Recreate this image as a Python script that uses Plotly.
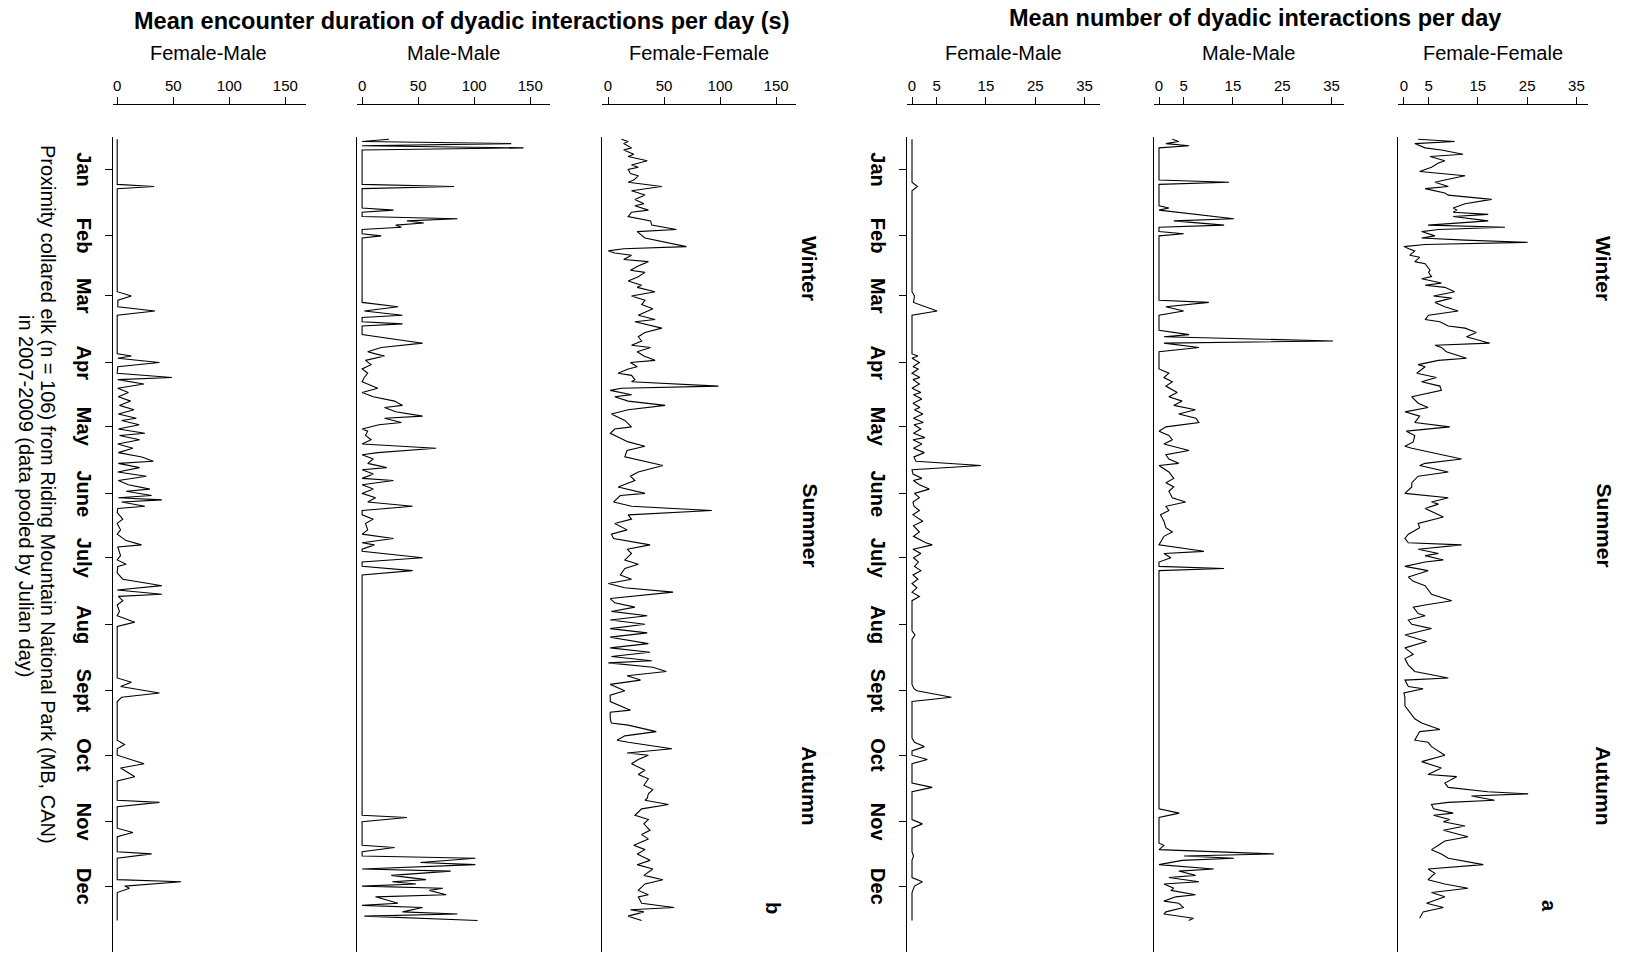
import plotly.graph_objects as go

W, H = 1627, 954

# ---------------- data: (julian day, value) vertices of each daily series ----------------
# Mean encounter duration of dyadic interactions per day (s)
fm_dur = [(1, 0), (22, 0), (23, 33), (24, 0), (72, 0), (74, 12.7), (76, 0.6), (79, 0.5), (81, 33.7), (83, 0),
          (101, 0), (102, 12.7), (103, 0.5), (105, 37.7), (107, 0.5), (110, 0), (112, 48.8), (113, 0.5),
          (115, 23.8), (117, 0.5), (119, 10), (121, 1), (123, 12), (125, 2), (127, 15), (129, 1), (131, 17),
          (132, 4), (134, 19.6), (136, 1), (138, 24.7), (139, 2), (141, 20), (143, 0.5), (145, 14), (147, 1),
          (149, 22), (151, 32.2), (152, 1), (154, 20), (156, 0.5), (158, 26), (160, 1), (162, 10), (164, 29.2),
          (165, 8), (167, 30.7), (168, 1), (169, 39.8), (170, 4), (172, 24.7), (173, 0.5), (175, 0), (178, 5),
          (180, 0), (183, 3), (185, 0), (188, 8), (190, 21.7), (191, 0.5), (195, 3), (197, 0), (199, 8),
          (200, 0.5), (203, 0), (206, 5), (208, 28), (209, 39.8), (211, 0), (213, 39.8), (214, 1), (216, 5),
          (218, 0), (221, 2), (223, 0), (226, 15.7), (228, 0), (252, 0), (254, 12.7), (256, 3), (259, 37.7),
          (261, 4), (263, 0), (281, 0), (283, 6.6), (285, 0), (288, 0), (292, 24), (294, 3), (297, 12.7),
          (298, 15.7), (300, 0), (309, 0), (310, 37.7), (312, 0), (322, 0), (324, 14), (326, 0), (333, 0),
          (334, 30.7), (336, 0), (346, 0), (347, 57), (349, 6.6), (350, 11), (352, 0), (365, 0)]

mm_dur = [(1, 24), (2, 0), (3, 133), (4, 0), (5, 144), (6, 0), (22, 0), (23, 82), (24, 0), (33, 0), (34, 28),
          (35, 0), (37, 0), (38, 85), (39, 40), (40, 55), (41, 30), (42, 35), (43, 0), (45, 0), (46, 17),
          (47, 0), (77, 0), (79, 32), (81, 2), (83, 36), (84, 0), (86, 0), (87, 36), (88, 0), (92, 0), (93, 14),
          (96, 54), (98, 17), (100, 5), (101, 12), (102, 20), (104, 3), (106, 8), (108, 0), (110, 5), (112, 2),
          (114, 0), (117, 14), (119, 0), (121, 10), (123, 29), (125, 36), (126, 20), (128, 30), (130, 54),
          (131, 20), (133, 35), (134, 15), (136, 0), (137, 5), (139, 3), (141, 8), (143, 0), (145, 66),
          (147, 14), (148, 0), (150, 10), (152, 5), (154, 22), (155, 0), (157, 10), (159, 0), (160, 28),
          (162, 0), (164, 10), (166, 0), (168, 12), (170, 5), (172, 45), (174, 0), (176, 0), (178, 10),
          (180, 3), (183, 5), (185, 0), (187, 28), (189, 0), (190, 11), (192, 0), (193, 0), (196, 54), (198, 0),
          (200, 0), (202, 45), (204, 0), (316, 0), (317, 40), (319, 0), (330, 0), (331, 29), (333, 0), (335, 0),
          (336, 101), (338, 52), (339, 101), (341, 0), (342, 79), (344, 26), (346, 57), (347, 27), (348, 48),
          (349, 0), (350, 72), (351, 60), (353, 75), (354, 12), (357, 32), (358, 0), (359, 54), (361, 36),
          (362, 85), (363, 2), (365, 103)]

ff_dur = [(1, 12), (2, 18), (3, 14), (5, 21), (6, 14), (8, 23), (9, 18), (11, 35), (13, 21), (14, 27), (15, 18),
          (17, 20), (18, 27), (20, 23), (21, 18), (23, 48), (25, 21), (27, 33), (29, 24), (31, 32), (32, 24),
          (34, 36), (35, 21), (37, 18), (39, 38), (41, 39), (43, 61), (44, 26), (47, 33), (48, 42), (51, 70),
          (52, 14), (53, 0.3), (54, 6), (55, 21), (57, 14), (58, 36), (60, 27), (62, 20), (63, 33), (65, 27),
          (67, 18), (69, 30), (70, 26), (72, 42), (74, 21), (76, 33), (78, 30), (80, 40), (83, 27), (85, 42),
          (86, 24), (89, 48), (91, 33), (93, 27), (95, 30), (97, 21), (98, 38), (100, 26), (102, 32), (104, 42),
          (105, 20), (107, 26), (108, 18), (110, 9), (111, 21), (113, 24), (114, 21), (116, 98.5), (117, 12),
          (118, 2), (120, 21), (121, 6), (123, 18), (125, 51), (127, 18), (129, 3), (132, 15), (135, 21),
          (136, 6), (138, 2), (142, 18), (144, 33), (146, 17), (149, 15), (153, 49), (156, 27), (158, 20),
          (160, 24), (163, 9), (164, 18), (166, 33), (167, 11), (170, 5), (172, 21), (174, 92.6), (176, 18),
          (178, 21), (180, 6), (183, 17), (185, 3), (187, 5), (190, 37.5), (192, 17), (194, 21), (197, 15),
          (199, 27), (201, 15), (204, 11), (206, 21), (208, 0.3), (210, 15), (212, 58), (214, 18), (215, 2),
          (217, 6), (219, 24), (221, 3), (223, 35), (225, 2), (227, 33), (229, 2), (231, 35), (233, 2), (236, 36),
          (238, 2), (240, 37.5), (242, 3), (244, 39), (245, 0.3), (247, 40), (249, 52), (251, 17), (253, 29),
          (255, 2), (258, 15), (260, 2), (263, 2), (267, 20), (268, 2), (271, 2), (273, 3), (274, 18), (277, 43),
          (279, 15), (281, 8), (282, 18), (285, 57), (287, 17), (288, 36), (290, 27), (292, 21), (295, 33),
          (297, 27), (299, 36), (302, 32), (304, 40), (306, 36), (308, 35), (309, 33), (311, 54), (313, 30),
          (316, 24), (318, 36), (320, 32), (323, 37.5), (325, 30), (327, 36), (330, 23), (332, 33), (334, 26),
          (337, 37.5), (339, 26), (341, 40), (344, 32), (346, 49), (348, 33), (351, 27), (353, 36), (354, 27),
          (357, 30), (359, 59), (360, 20), (361, 32), (363, 18), (365, 30)]

# Mean number of dyadic interactions per day
fm_num = [(1, 0), (21, 0), (23, 1.1), (25, 0), (72, 0), (74, 0.5), (77, 0.3), (81, 5.1), (83, 0), (101, 0),
          (102, 1.2), (103, 0), (105, 1.5), (107, 0.2), (108, 1.3), (110, 0), (112, 1.6), (113, 0.2), (115, 1.5),
          (117, 0), (119, 1.8), (120, 0.3), (122, 2), (124, 0.2), (126, 1.6), (127, 0.5), (129, 2.2), (131, 0.3),
          (133, 2.3), (134, 0.4), (136, 1.8), (138, 0.3), (140, 2.6), (141, 0.2), (143, 2), (145, 0.3),
          (147, 2.5), (149, 0.4), (151, 0.8), (153, 14), (155, 0), (157, 0.2), (159, 2), (160, 0.3), (162, 1.5),
          (164, 3.5), (166, 0.5), (168, 1.5), (170, 0.2), (172, 0.4), (174, 1.5), (176, 0.2), (179, 2.2),
          (181, 0.3), (184, 1.5), (186, 0.3), (189, 2.8), (190, 4.1), (192, 0.2), (194, 1.8), (196, 0.3),
          (198, 1.3), (200, 0.5), (202, 1.8), (204, 0.2), (206, 1.2), (208, 0), (210, 1), (212, 0), (214, 1.5),
          (216, 0), (230, 0), (232, 0.6), (234, 0), (255, 0), (257, 0.4), (258, 1), (261, 8), (263, 0), (280, 0),
          (282, 0.5), (284, 2.5), (286, 0), (288, 0), (290, 3.1), (292, 0), (301, 0), (303, 4.1), (305, 0),
          (318, 0), (320, 2.1), (322, 0), (333, 0), (335, 0.3), (337, 0), (345, 0), (347, 2.1), (349, 0.5),
          (352, 0), (365, 0)]

mm_num = [(1, 2.7), (2, 4), (3, 1.4), (4, 6.1), (5, 0), (20, 0), (21, 14.2), (22, 0), (32, 0), (33, 2), (34, 0),
          (36, 7.4), (38, 15.2), (39, 3), (41, 13.2), (42, 0), (44, 0), (45, 5), (46, 0), (76, 0), (77, 10.1),
          (79, 1.4), (81, 5), (83, 0), (90, 0), (92, 6.1), (93, 1), (95, 35.3), (96, 1), (98, 8.1), (100, 0),
          (108, 0), (110, 2), (112, 1), (114, 2.7), (116, 1.4), (119, 3.7), (121, 2), (123, 4.7), (125, 3),
          (127, 7.4), (129, 4), (131, 7.5), (133, 8.1), (135, 1.4), (137, 0), (139, 2), (141, 2.7), (143, 1),
          (146, 6.1), (148, 1.4), (150, 2), (152, 4), (153, 0), (156, 2), (159, 3), (161, 1.4), (163, 3),
          (165, 2), (168, 2.7), (170, 5.4), (172, 1.4), (174, 2), (176, 0.3), (179, 1), (182, 1.4), (184, 2.7),
          (186, 1), (188, 0.5), (190, 0), (193, 9.1), (194, 1), (196, 2.4), (198, 0), (200, 0), (201, 13.2),
          (202, 0), (313, 0), (315, 4.1), (317, 0), (329, 0), (330, 1), (332, 0), (334, 23.3), (335, 5.1),
          (336, 15.2), (337, 4.7), (339, 0), (341, 11.1), (342, 4), (344, 7.4), (345, 2), (347, 8.1), (348, 1),
          (350, 3), (351, 2.4), (353, 7.4), (354, 3.4), (356, 1), (357, 4), (359, 5), (361, 1.4), (362, 1),
          (364, 7), (365, 6)]

ff_num = [(1, 2.9), (2, 10.3), (3, 2.2), (4, 3.2), (5, 4.3), (6, 7.6), (8, 12), (9, 5.3), (11, 8.3), (12, 7),
          (14, 5.6), (16, 3.2), (17, 8), (18, 12.4), (20, 8.3), (21, 6.3), (23, 9), (24, 4.3), (26, 8.3), (27, 9),
          (29, 17.8), (31, 12.4), (33, 10), (34, 10.7), (35, 10), (36, 17.1), (37, 10), (39, 17.1), (41, 4.9),
          (42, 20.5), (43, 7), (44, 3.6), (46, 6.3), (47, 3.6), (48, 12.4), (49, 25.1), (50, 4.3), (51, 0),
          (52, 1), (53, 2.2), (55, 1.2), (56, 3.2), (58, 2.2), (59, 4.3), (62, 5.3), (63, 5), (65, 5.6), (66, 3.6),
          (68, 7.6), (69, 4.3), (70, 8.3), (72, 10.3), (74, 6), (75, 9.7), (77, 6.3), (79, 8.3), (81, 11), (83, 5),
          (85, 4.3), (86, 7.3), (88, 9), (89, 12.4), (91, 14.7), (93, 12.7), (96, 17.4), (97, 6.3), (98, 7.6),
          (100, 8.6), (103, 12.7), (104, 7), (106, 2.9), (107, 4.3), (110, 2.6), (112, 6.6), (114, 3.6),
          (116, 7.3), (118, 7.6), (120, 3.2), (121, 1.6), (124, 2.9), (126, 4.9), (128, 0.2), (130, 3.2),
          (133, 2.2), (135, 9.3), (137, 0.5), (139, 2.2), (142, 1.9), (144, 0.2), (145, 1.6), (150, 11.7),
          (152, 4.3), (153, 3.2), (156, 9), (158, 2.9), (161, 1.6), (163, 1.6), (166, 0.2), (168, 9), (170, 5.6),
          (171, 7), (173, 4.3), (177, 8), (180, 2.9), (182, 3.2), (185, 0.9), (187, 0.2), (189, 0.9), (190, 11.7),
          (192, 2.9), (194, 7), (195, 4.3), (197, 8), (198, 4.3), (200, 0.2), (202, 4.9), (205, 0.9), (207, 1.9),
          (209, 4.3), (213, 5.6), (216, 9.7), (218, 4.3), (219, 1.9), (222, 2.9), (223, 4.3), (225, 0.9),
          (227, 1.6), (229, 5.6), (232, 0.2), (235, 4.6), (238, 0.2), (241, 1.9), (243, 0.2), (246, 0.9),
          (249, 2.2), (252, 9), (253, 0.2), (256, 0.9), (257, 3.9), (259, 0), (261, 0.2), (265, 0.2), (268, 1.2),
          (271, 2.2), (273, 3.6), (276, 7.3), (277, 3.2), (281, 2.2), (282, 4.9), (284, 5.6), (288, 8.3),
          (291, 3.6), (294, 7.6), (297, 4.9), (298, 10.7), (301, 8.3), (303, 9), (304, 12.7), (305, 17),
          (306, 25.2), (307, 13.7), (309, 18.4), (310, 9), (311, 5.6), (313, 6), (315, 10), (316, 6), (318, 9.3),
          (319, 8), (321, 12.4), (323, 8), (326, 13), (328, 8.3), (330, 7), (332, 5.6), (334, 7.6), (336, 9),
          (339, 16.1), (341, 4.9), (343, 6.3), (346, 4.9), (348, 8.3), (350, 13), (352, 5.6), (354, 8.3),
          (357, 4.6), (359, 8), (361, 3.9), (364, 3.2)]

months = ["Jan", "Feb", "Mar", "Apr", "May", "June", "July", "Aug", "Sept", "Oct", "Nov", "Dec"]
month_mid_days = [15, 46, 74, 105, 135, 166, 196, 227, 258, 288, 319, 349]
seasons = ["Winter", "Summer", "Autumn"]
season_days = [61, 181, 302]
dur_ticks = [0, 50, 100, 150]
num_ticks = [0, 5, 15, 25, 35]

FONT = "Liberation Sans, Arial, Helvetica, sans-serif"

# ---------------- geometry (pixels) ----------------
DAY0_PX, PX_PER_DAY = 139.3, 2.146        # vertical position of day 1 and spacing per day
PLOT_TOP, PLOT_BOTTOM = 137, 952          # vertical extent of each panel's day axis
AXIS_Y = 104                              # top value axis line
y_top_day = 1 + (PLOT_TOP - DAY0_PX) / PX_PER_DAY
y_bot_day = 1 + (PLOT_BOTTOM - DAY0_PX) / PX_PER_DAY

# title, series, left edge, zero position, right edge, px per unit, ticks, has month ticks
panels = [
    ("Female-Male", fm_dur, 113.0, 117.2, 306.0, 1.121, dur_ticks, True),
    ("Male-Male", mm_dur, 357.0, 362.1, 550.0, 1.121, dur_ticks, False),
    ("Female-Female", ff_dur, 601.8, 608.0, 795.8, 1.121, dur_ticks, False),
    ("Female-Male", fm_num, 906.9, 912.0, 1100.0, 4.93, num_ticks, True),
    ("Male-Male", mm_num, 1153.8, 1159.0, 1343.7, 4.93, num_ticks, False),
    ("Female-Female", ff_num, 1397.6, 1403.9, 1587.5, 4.93, num_ticks, False),
]

fig = go.Figure()
layout = {}
annotations = []

def ann(text, x, y, size, bold=False, angle=0, xref="paper", yref="paper"):
    annotations.append(dict(
        text=f"<b>{text}</b>" if bold else text, x=x, y=y, xref=xref, yref=yref,
        xanchor="center", yanchor="middle", showarrow=False, textangle=angle,
        font=dict(family=FONT, size=size, color="black")))

for i, (name, series, left, zero, right, ppu, ticks, month_ticks) in enumerate(panels, start=1):
    days = [d for d, _ in series]
    vals = [v for _, v in series]
    xa, ya = f"x{i}", f"y{i}"
    fig.add_trace(go.Scatter(x=vals, y=days, mode="lines", xaxis=xa, yaxis=ya,
                             line=dict(color="black", width=1.1), hoverinfo="skip", showlegend=False))
    layout[f"xaxis{i}"] = dict(
        domain=[left / W, right / W], range=[(left - zero) / ppu, (right - zero) / ppu],
        side="top", anchor="free", position=1 - AXIS_Y / H,
        showline=True, linecolor="black", linewidth=1, ticks="outside", ticklen=7, tickwidth=1,
        tickcolor="black", tickvals=ticks, ticktext=[str(t) for t in ticks],
        tickfont=dict(family=FONT, size=15, color="black"), showgrid=False, zeroline=False)
    layout[f"yaxis{i}"] = dict(
        domain=[1 - PLOT_BOTTOM / H, 1 - PLOT_TOP / H], anchor=xa, range=[y_bot_day, y_top_day],
        showline=True, linecolor="black", linewidth=1, showgrid=False, zeroline=False,
        showticklabels=False, ticks="outside" if month_ticks else "", ticklen=7, tickwidth=1,
        tickcolor="black", tickvals=month_mid_days if month_ticks else [])
    ann(name, ((left + right) / 2 + (zero - left) / 2 - 3) / W, 1 - 53 / H, 20)

# group titles
ann("Mean encounter duration of dyadic interactions per day (s)", 462 / W, 1 - 21 / H, 23.5, bold=True)
ann("Mean number of dyadic interactions per day", 1255 / W, 1 - 18 / H, 23.5, bold=True)

# month labels beside the first panel of each group
for lab_x, yref in ((84, "y1"), (878, "y4")):
    for m, d in zip(months, month_mid_days):
        ann(m, lab_x / W, d, 20, bold=True, angle=90, yref=yref)

# season labels on the right of each group
for lab_x, yref in ((810, "y1"), (1604, "y4")):
    for s, d in zip(seasons, season_days):
        ann(s, lab_x / W, d, 21, bold=True, angle=90, yref=yref)

ann("b", 773 / W, 1 - 908 / H, 20, bold=True, angle=90)
ann("a", 1549 / W, 1 - 906 / H, 20, bold=True, angle=90)

# data source note, one annotation per line
ann("Proximity collared elk (n = 106) from Riding Mountain National Park (MB, CAN)",
    48 / W, 1 - 494 / H, 20, angle=90)
ann("in 2007-2009 (data pooled by Julian day)", 26 / W, 1 - 496 / H, 20, angle=90)

fig.update_layout(width=W, height=H, margin=dict(l=0, r=0, t=0, b=0),
                  paper_bgcolor="white", plot_bgcolor="white", showlegend=False,
                  annotations=annotations, **layout)

fig.write_html("out.html")
